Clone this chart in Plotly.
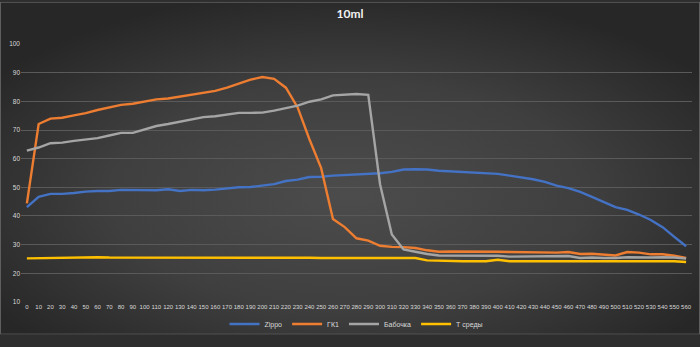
import base64
import plotly.graph_objects as go

# Time axis, seconds (category labels 0..560 step 10)
times = list(range(0, 570, 10))

zippo = [43.1, 46.7, 47.7, 47.7, 48.0, 48.5, 48.7, 48.7, 49.1, 49.0,
         49.0, 49.0, 49.3, 48.7, 49.1, 49.0, 49.2, 49.7, 50.0, 50.1,
         50.5, 51.1, 52.2, 52.7, 53.6, 53.7, 54.1, 54.3, 54.5, 54.6,
         54.9, 55.4, 56.2, 56.3, 56.2, 55.8, 55.6, 55.3, 55.1, 55.1,
         54.7, 54.1, 53.5, 52.8, 51.9, 50.6, 49.7, 48.4, 46.7, 45.0,
         43.1, 42.1, 40.5, 38.6, 36.1, 32.7, 29.4]

gk1 = [44.4, 72.1, 74.0, 74.3, 75.1, 75.9, 77.0, 77.9, 78.8, 79.2,
       79.9, 80.7, 81.0, 81.7, 82.3, 83.0, 83.7, 84.8, 86.1, 87.6,
       88.5, 87.9, 84.8, 77.9, 66.8, 56.7, 38.9, 36.1, 32.2, 31.4,
       29.6, 29.2, 29.1, 28.8, 28.0, 27.5, 27.6, 27.6, 27.5, 27.7,
       27.5, 27.4, 27.3, 27.3, 27.2, 27.2, 27.4, 26.7, 26.8, 26.5,
       26.2, 27.4, 27.2, 26.6, 26.6, 26.1, 25.3]

babochka = [62.8, 63.9, 65.4, 65.6, 66.2, 66.8, 67.2, 68.1, 69.0, 69.0,
            70.3, 71.4, 72.1, 72.9, 73.8, 74.5, 74.8, 75.5, 76.0, 76.0,
            76.1, 76.8, 77.7, 78.5, 79.9, 80.7, 82.1, 82.3, 82.6, 82.3,
            51.1, 33.5, 28.3, 27.5, 26.7, 26.2, 26.2, 26.1, 26.0, 26.0,
            26.1, 25.8, 25.8, 26.0, 25.8, 25.8, 26.0, 25.3, 25.5, 25.3,
            25.3, 25.6, 25.5, 25.5, 25.6, 25.5, 25.1]

t_sredy = [25.2, 25.3, 25.4, 25.4, 25.5, 25.7, 25.6, 25.5, 25.5, 25.6,
           25.6, 25.5, 25.6, 25.5, 25.5, 25.5, 25.5, 25.5, 25.5, 25.6,
           25.5, 25.5, 25.5, 25.5, 25.4, 25.3, 25.3, 25.3, 25.3, 25.3,
           25.3, 25.3, 25.3, 25.3, 24.5, 24.4, 24.1, 24.2, 24.2, 24.2,
           24.7, 24.2, 24.2, 24.2, 24.2, 24.2, 24.2, 24.2, 24.2, 24.2,
           24.2, 24.2, 24.2, 24.2, 24.3, 24.2, 23.9]

series_names = ["Zippo", "ГК1", "Бабочка", "Т среды"]
series_colors = ["#4472C4", "#ED7D31", "#A5A5A5", "#FFC000"]
series_values = [zippo, gk1, babochka, t_sredy]

W, H = 700, 347
ML, MR, MT, MB = 21, 8, 44, 34
PW, PH = W - ML - MR, H - MT - MB

LABEL_FONT = "Liberation Sans, Arial, sans-serif"

# Dark radial-gradient backdrop with a thin frame
svg = f"""<svg xmlns='http://www.w3.org/2000/svg' width='{W}' height='{H}' viewBox='0 0 {W} {H}'>
<defs><radialGradient id='g' cx='0.5' cy='0.58' r='0.62'>
<stop offset='0' stop-color='#4c4c4c'/><stop offset='0.55' stop-color='#3f3f3f'/>
<stop offset='1' stop-color='#272727'/></radialGradient></defs>
<rect x='0' y='0' width='{W}' height='{H}' fill='url(#g)'/>
<rect x='0.5' y='0.5' width='{W-1}' height='{H-1}' fill='none' stroke='#5e5e5e' stroke-width='1'/>
</svg>"""
bg_uri = "data:image/svg+xml;base64," + base64.b64encode(svg.encode()).decode()

fig = go.Figure()
for name, color, vals in zip(series_names, series_colors, series_values):
    fig.add_trace(go.Scatter(
        x=times, y=vals, name=name, mode="lines",
        line=dict(color=color, width=2.4),
    ))

fig.update_layout(
    width=W, height=H,
    margin=dict(l=ML, r=MR, t=MT, b=MB, pad=0),
    paper_bgcolor="#2e2e2e",
    plot_bgcolor="rgba(0,0,0,0)",
    font=dict(family=LABEL_FONT, color="#d9d9d9", size=7),
    title=dict(text="<b>10ml</b>", x=0.5, xanchor="center", y=1 - 14 / H,
               yanchor="middle",
               font=dict(family="Lato, 'Open Sans', sans-serif", size=12, color="#f2f2f2")),
    showlegend=True,
    legend=dict(orientation="h", x=0.5, xanchor="center", y=-(336 - MT - PH) / PH,
                yanchor="middle", font=dict(family=LABEL_FONT, size=7, color="#d9d9d9"),
                bgcolor="rgba(0,0,0,0)", itemwidth=30, tracegroupgap=0),
    images=[dict(source=bg_uri, xref="paper", yref="paper",
                 x=-ML / PW, y=1 + MT / PH, sizex=W / PW, sizey=H / PH,
                 xanchor="left", yanchor="top", sizing="stretch", layer="below")],
)

fig.update_xaxes(
    range=[-5, 565], tickmode="array", tickvals=times,
    ticktext=[str(t) for t in times], tickangle=0,
    showgrid=False, zeroline=False, showline=False, ticks="",
    tickfont=dict(family=LABEL_FONT, size=6, color="#d9d9d9"),
)
fig.update_yaxes(
    range=[9.95, 100.05], tickmode="array", tickvals=list(range(10, 101, 10)),
    showgrid=True, gridcolor="#5a5a5a", gridwidth=1,
    zeroline=False, showline=False, ticks="",
    tickfont=dict(family=LABEL_FONT, size=6.5, color="#d9d9d9"),
)

fig.write_html("out.html")
